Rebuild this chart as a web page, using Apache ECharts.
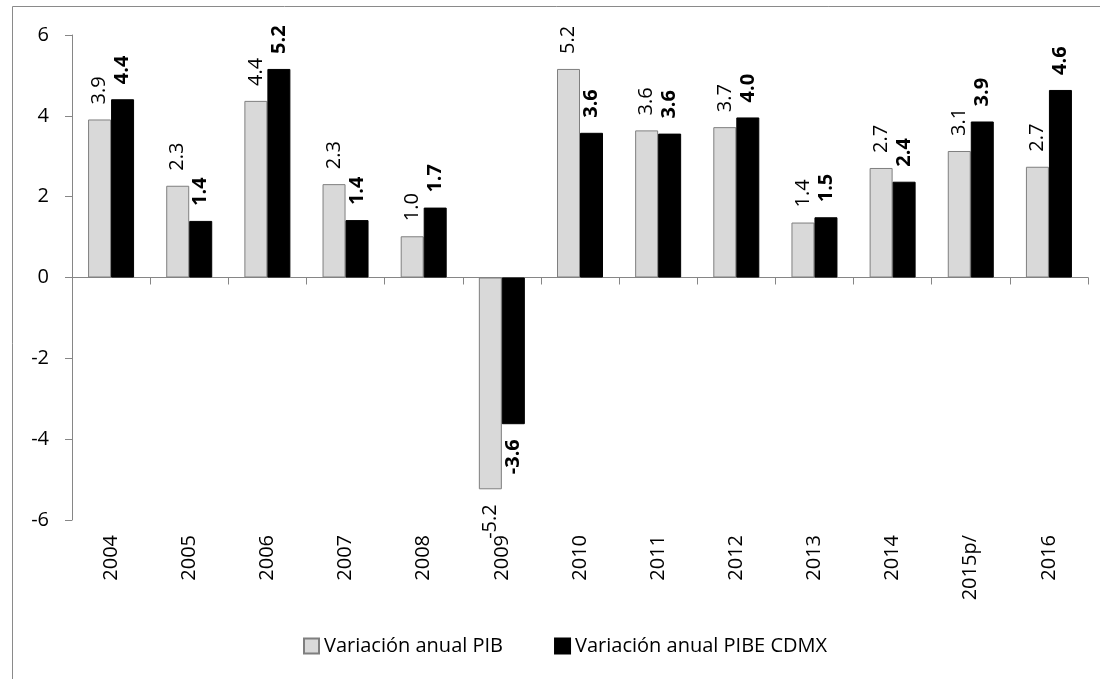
<!DOCTYPE html>
<html><head><meta charset="utf-8">
<script src="https://cdn.jsdelivr.net/npm/echarts@6/dist/echarts.min.js"></script>
<style>html,body{margin:0;padding:0;background:#fff}#c{width:1100px;height:679px}</style>
</head><body><div id="c"></div>
<script>
const categories = ['2004','2005','2006','2007','2008','2009','2010','2011','2012','2013','2014','2015p/','2016'];
const pib = [3.91, 2.27, 4.37, 2.31, 1.02, -5.24, 5.16, 3.64, 3.72, 1.36, 2.71, 3.13, 2.74];
const pibeCdmx = [4.41, 1.40, 5.16, 1.42, 1.73, -3.63, 3.58, 3.56, 3.96, 1.49, 2.37, 3.86, 4.64];
const seriesNames = ['Variación anual PIB', 'Variación anual PIBE CDMX'];

const FONT = 'Open Sans';
const AX = '#868686';

function withLabels(values) {
  return values.map(v => v < 0
    ? { value: v, label: { position: 'bottom', align: 'right', verticalAlign: 'middle' } }
    : { value: v });
}
function baseLabel(bold) {
  return {
    show: true, position: 'top', rotate: 90, align: 'left', verticalAlign: 'middle',
    distance: 15, fontFamily: FONT, fontSize: 20, color: '#000',
    fontWeight: bold ? 'bold' : 'normal',
    formatter: p => p.value.toFixed(1)
  };
}

const chart = echarts.init(document.getElementById('c'), null, { renderer: 'canvas' });
chart.setOption({
  animation: false,
  backgroundColor: '#fff',
  textStyle: { fontFamily: FONT },
  graphic: [{
    type: 'rect', silent: true,
    shape: { x: 12.5, y: 6.5, width: 1200, height: 800 },
    style: { fill: 'none', stroke: '#8a8a8a', lineWidth: 1 }
  }],
  grid: { left: 72, right: 12, top: 35, bottom: 159, containLabel: false },
  legend: {
    left: 303, top: 636, padding: 0, icon: 'rect',
    itemWidth: 15, itemHeight: 15, itemGap: 51,
    textStyle: { fontFamily: FONT, fontSize: 20, color: '#000' },
    data: seriesNames
  },
  xAxis: [{
    type: 'category', data: categories, position: 'bottom',
    axisLine: { onZero: true, lineStyle: { color: AX, width: 1 } },
    axisTick: { show: true, length: 7, interval: 0, lineStyle: { color: AX } },
    axisLabel: { show: false },
    splitLine: { show: false }
  }, {
    type: 'category', data: categories, position: 'bottom',
    axisLine: { show: false, onZero: false },
    axisTick: { show: false },
    axisLabel: { show: true, rotate: 90, interval: 0, margin: 15, fontFamily: FONT, fontSize: 20, color: '#000' },
    splitLine: { show: false }
  }],
  yAxis: {
    type: 'value', min: -6, max: 6, interval: 2,
    axisLine: { show: true, lineStyle: { color: AX, width: 1 } },
    axisTick: { show: true, length: 7, lineStyle: { color: AX } },
    axisLabel: { margin: 23, fontFamily: FONT, fontSize: 20, color: '#000' },
    splitLine: { show: false }
  },
  series: [{
    name: seriesNames[0], type: 'bar', xAxisIndex: 0,
    data: withLabels(pib),
    barWidth: 23, barGap: '0%',
    itemStyle: { color: '#D9D9D9', borderColor: '#7F7F7F', borderWidth: 1 },
    label: baseLabel(false)
  }, {
    name: seriesNames[1], type: 'bar', xAxisIndex: 0,
    data: withLabels(pibeCdmx),
    barWidth: 23, barGap: '0%',
    itemStyle: { color: '#000000', borderColor: '#000000', borderWidth: 1 },
    label: baseLabel(true)
  }]
});
</script></body></html>
